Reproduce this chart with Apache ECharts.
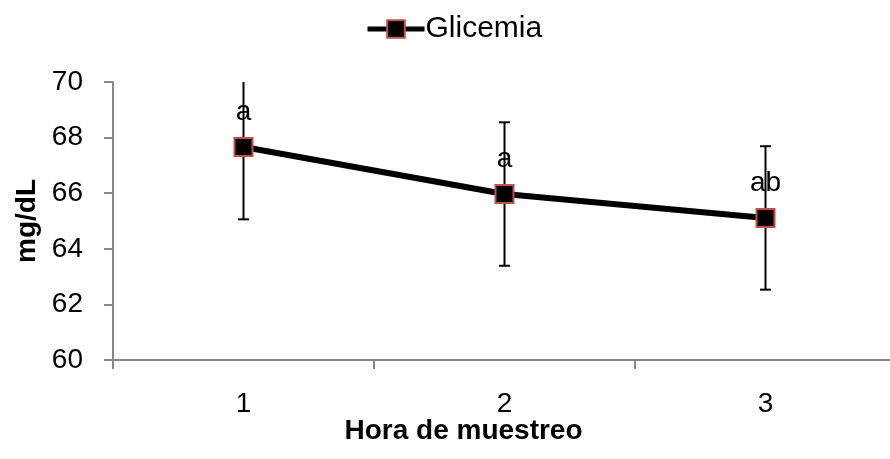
<!DOCTYPE html>
<html>
<head>
<meta charset="utf-8">
<script src="https://cdn.jsdelivr.net/npm/echarts@6/dist/echarts.min.js"></script>
<style>html,body{margin:0;padding:0;background:#fff}#c{width:890px;height:459px}</style>
</head>
<body>
<div id="c"></div>
<script>
const categories = ['1', '2', '3'];
const glicemia = [67.66, 65.97, 65.11];
const errors = [2.6, 2.58, 2.58];
const letters = ['a', 'a', 'ab'];
const yTicks = [60, 62, 64, 66, 68, 70];

const FONT = '"Liberation Sans", Arial, sans-serif';
const chart = echarts.init(document.getElementById('c'));

const errData = glicemia.map((v, i) => [i, v - errors[i], v + errors[i]]);

chart.setOption({
  animation: false,
  backgroundColor: '#fff',
  textStyle: { fontFamily: FONT, color: '#000' },
  legend: {
    data: ['Glicemia'],
    left: 360,
    top: 9,
    itemWidth: 57,
    itemHeight: 22,
    itemGap: 10,
    lineStyle: { width: 5, color: '#000' },
    textStyle: { fontSize: 30, color: '#000', fontFamily: FONT, padding: [0, 0, 0, -4] }
  },
  grid: { left: 113, right: -6, top: 82, bottom: 99, outerBoundsMode: 'none', containLabel: false },
  xAxis: {
    type: 'category',
    data: categories,
    boundaryGap: true,
    name: 'Hora de muestreo',
    nameLocation: 'middle',
    nameGap: 57,
    nameMoveOverlap: false,
    nameTextStyle: { fontSize: 28, fontWeight: 'bold', color: '#000', fontFamily: FONT, padding: [0, 82, 0, 0] },
    axisLine: { lineStyle: { color: '#888', width: 2 } },
    axisTick: { show: true, alignWithLabel: false, length: 9, lineStyle: { color: '#888', width: 2 } },
    axisLabel: { fontSize: 28, color: '#000', margin: 30, fontFamily: FONT },
    splitLine: { show: false }
  },
  yAxis: {
    type: 'value',
    min: yTicks[0],
    max: yTicks[yTicks.length - 1],
    interval: 2,
    name: 'mg/dL',
    nameLocation: 'middle',
    nameGap: 72,
    nameMoveOverlap: false,
    nameRotate: 90,
    nameTextStyle: { fontSize: 28, fontWeight: 'bold', color: '#000', fontFamily: FONT },
    axisLine: { show: true, lineStyle: { color: '#888', width: 2 } },
    axisTick: { show: true, length: 9, lineStyle: { color: '#888', width: 2 } },
    axisLabel: { fontSize: 28, color: '#000', margin: 30, fontFamily: FONT },
    splitLine: { show: false }
  },
  series: [
    {
      name: 'errors',
      type: 'custom',
      z: 1,
      data: errData,
      renderItem: function (params, api) {
        const x = api.value(0);
        const lo = api.coord([x, api.value(1)]);
        const hi = api.coord([x, api.value(2)]);
        const cs = params.coordSys;
        const top = Math.max(hi[1], cs.y);
        const bot = Math.min(lo[1], cs.y + cs.height);
        const cap = 5.5;
        const children = [
          { type: 'line', shape: { x1: lo[0], y1: bot, x2: lo[0], y2: top }, style: { stroke: '#000', lineWidth: 2 } }
        ];
        if (hi[1] >= cs.y) children.push({ type: 'line', shape: { x1: lo[0] - cap, y1: hi[1], x2: lo[0] + cap, y2: hi[1] }, style: { stroke: '#000', lineWidth: 2 } });
        if (lo[1] <= cs.y + cs.height) children.push({ type: 'line', shape: { x1: lo[0] - cap, y1: lo[1], x2: lo[0] + cap, y2: lo[1] }, style: { stroke: '#000', lineWidth: 2 } });
        return { type: 'group', children: children };
      }
    },
    {
      name: 'Glicemia',
      type: 'line',
      z: 3,
      data: glicemia,
      symbol: 'rect',
      symbolSize: 18,
      lineStyle: { color: '#000', width: 6 },
      itemStyle: { color: '#000', borderColor: '#c0504d', borderWidth: 2 },
      label: {
        show: true,
        position: 'top',
        distance: 11,
        fontSize: 28,
        color: '#000',
        fontFamily: FONT,
        formatter: p => letters[p.dataIndex]
      }
    }
  ]
});
</script>
</body>
</html>
